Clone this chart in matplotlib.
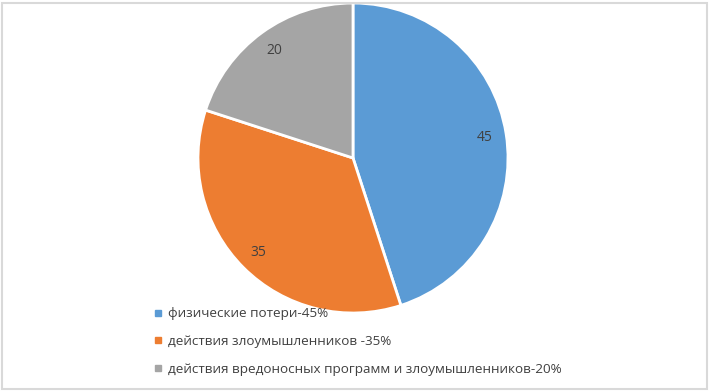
import matplotlib
matplotlib.use("Agg")
import matplotlib.pyplot as plt
from matplotlib.lines import Line2D
from matplotlib.patches import Rectangle

categories = ["физические потери-45%", "действия злоумышленников -35%",
              "действия вредоносных программ и злоумышленников-20%"]
values = [45, 35, 20]
colors = ["#5B9BD5", "#ED7D31", "#A5A5A5"]

plt.rcParams['font.family'] = ['Open Sans', 'DejaVu Sans']

fig = plt.figure(figsize=(7.1, 3.92), dpi=100)
W, H = 710, 392
cx, cy, r = 353, 158, 155
ax = fig.add_axes([(cx - r) / W, (H - cy - r) / H, 2 * r / W, 2 * r / H])
wedges, texts, autotexts = ax.pie(
    values, colors=colors, startangle=90, counterclock=False,
    autopct=lambda p: f"{p * sum(values) / 100:.0f}", pctdistance=0.86,
    wedgeprops=dict(edgecolor="white", linewidth=2),
    textprops=dict(color="#404040", fontsize=10))
ax.set_aspect("equal")
ax.set_xlim(-1, 1)
ax.set_ylim(-1, 1)

handles = [Line2D([], [], marker="s", linestyle="none", markersize=5,
                  markerfacecolor=c, markeredgecolor=c) for c in colors]
fig.legend(handles, categories, loc="upper left",
           bbox_to_anchor=(149 / W, 1 - 302 / H), frameon=False,
           fontsize=9.7, labelcolor="#404040", handlelength=0.6,
           handletextpad=0.4, labelspacing=1.1, borderaxespad=0)

fig.patches.append(Rectangle((2 / W, 3 / H), 705 / W, 386 / H,
                             transform=fig.transFigure, fill=False,
                             edgecolor="#d9d9d9", linewidth=1.5))
fig.savefig("out.png", dpi=100)
